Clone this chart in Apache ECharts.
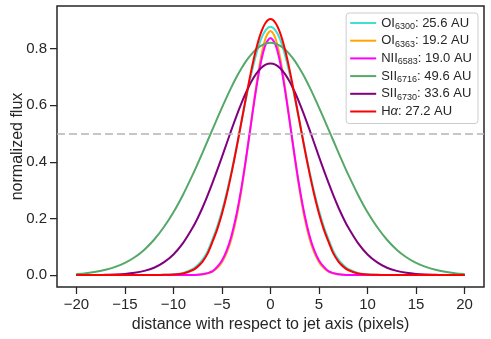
<!DOCTYPE html>
<html>
<head>
<meta charset="utf-8">
<script src="https://cdn.jsdelivr.net/npm/echarts@6/dist/echarts.min.js"></script>
<style>
  html, body { margin: 0; padding: 0; background: #fff; }
  #chart { width: 491px; height: 339px; }
</style>
</head>
<body>
<div id="chart"></div>
<script>
// distance from jet axis (pixels)
const xs = [-20,-19,-18,-17,-16,-15,-14,-13,-12,-11,-10,-9,
  -8,-7.5,-7,-6.5,-6,-5.5,-5,-4.5,-4,-3.5,-3,-2.5,-2,-1.5,-1,-0.5,0,
  0.5,1,1.5,2,2.5,3,3.5,4,4.5,5,5.5,6,6.5,7,7.5,8,
  9,10,11,12,13,14,15,16,17,18,19,20];

// normalized flux profiles
const oi6300 = [0,0,0,0,0,0,0,0,0,0.001,0.003,0.008,
  0.022,0.036,0.055,0.083,0.125,0.171,0.227,0.294,0.370,0.453,0.540,0.626,0.707,0.777,0.832,0.866,0.878,
  0.866,0.832,0.777,0.707,0.626,0.540,0.453,0.370,0.294,0.227,0.171,0.125,0.083,0.055,0.036,0.022,
  0.008,0.003,0.001,0,0,0,0,0,0,0,0,0];
const oi6363 = [0,0,0,0,0,0,0,0,0,0,0,0,
  0,0.001,0.003,0.006,0.012,0.025,0.046,0.080,0.131,0.204,0.299,0.414,0.539,0.662,0.767,0.838,0.863,
  0.838,0.767,0.662,0.539,0.414,0.299,0.204,0.131,0.080,0.046,0.025,0.012,0.006,0.003,0.001,0,
  0,0,0,0,0,0,0,0,0,0,0,0];
const nii6583 = [0,0,0,0,0,0,0,0,0,0,0,0,
  0,0.001,0.003,0.007,0.013,0.029,0.052,0.088,0.142,0.215,0.308,0.418,0.537,0.653,0.750,0.815,0.838,
  0.815,0.750,0.653,0.537,0.418,0.308,0.215,0.142,0.088,0.052,0.029,0.013,0.007,0.003,0.001,0,
  0,0,0,0,0,0,0,0,0,0,0,0];
const sii6716 = [0.004,0.007,0.012,0.019,0.029,0.043,0.063,0.090,0.125,0.169,0.222,0.285,
  0.356,0.394,0.433,0.473,0.513,0.553,0.592,0.630,0.666,0.700,0.730,0.757,0.779,0.797,0.810,0.818,0.821,
  0.818,0.810,0.797,0.779,0.757,0.730,0.700,0.666,0.630,0.592,0.553,0.513,0.473,0.433,0.394,0.356,
  0.285,0.222,0.169,0.125,0.090,0.063,0.043,0.029,0.019,0.012,0.007,0.004];
const sii6730 = [0,0,0,0.001,0.002,0.004,0.008,0.015,0.026,0.045,0.073,0.114,
  0.169,0.202,0.239,0.280,0.324,0.370,0.418,0.467,0.516,0.563,0.607,0.647,0.682,0.710,0.731,0.744,0.748,
  0.744,0.731,0.710,0.682,0.647,0.607,0.563,0.516,0.467,0.418,0.370,0.324,0.280,0.239,0.202,0.169,
  0.114,0.073,0.045,0.026,0.015,0.008,0.004,0.002,0.001,0,0,0];
const halpha = [0,0,0,0,0,0,0,0,0,0.001,0.002,0.006,
  0.018,0.030,0.048,0.075,0.116,0.161,0.217,0.285,0.363,0.449,0.541,0.633,0.720,0.796,0.855,0.892,0.905,
  0.892,0.855,0.796,0.720,0.633,0.541,0.449,0.363,0.285,0.217,0.161,0.116,0.075,0.048,0.030,0.018,
  0.006,0.002,0.001,0,0,0,0,0,0,0,0,0];

const names = ["OI6300", "OI6363", "NII6583", "SII6716", "SII6730", "Halpha"];
const legendLabels = [
  "OI{s|6300}: 25.6 AU",
  "OI{s|6363}: 19.2 AU",
  "NII{s|6583}: 19.0 AU",
  "SII{s|6716}: 49.6 AU",
  "SII{s|6730}: 33.6 AU",
  "H{i|α}: 27.2 AU",
];
const colors = ["#40E0D0", "#FFA500", "#FF00FF", "#55A868", "#800080", "#FF0000"];
const profiles = [oi6300, oi6363, nii6583, sii6716, sii6730, halpha];

const xTicks = [-20, -15, -10, -5, 0, 5, 10, 15, 20];
const yTicks = [0, 0.2, 0.4, 0.6, 0.8];
const halfLevel = 0.5;

const font = "Liberation Sans, Arial, sans-serif";
const ink = "#262626";

const chartDom = echarts.init(document.getElementById("chart"));

const series = profiles.map(function (vals, i) {
  return {
    name: names[i],
    type: "line",
    smooth: 0.3,
    symbol: "none",
    lineStyle: { color: colors[i], width: 2 },
    itemStyle: { color: colors[i] },
    data: xs.map(function (x, j) { return [x, vals[j]]; }),
  };
});
// dashed half-level line
series[0].markLine = {
  silent: true,
  symbol: "none",
  label: { show: false },
  lineStyle: { color: "#b4b4b4", type: [8, 4], width: 1.5 },
  data: [{ yAxis: halfLevel }],
};

const option = {
  animation: false,
  grid: {
    left: 57, right: 7, top: 6, bottom: 52,
    outerBoundsMode: "none",
    containLabel: false,
    show: true, borderColor: ink, borderWidth: 1.5,
  },
  xAxis: {
    type: "value",
    min: -22, max: 22,
    name: "distance with respect to jet axis (pixels)",
    nameLocation: "middle",
    nameGap: 30,
    nameTextStyle: { fontSize: 16, color: ink, fontFamily: font },
    axisLine: { show: false, onZero: false },
    splitLine: { show: false },
    axisTick: { show: true, length: 7, customValues: xTicks, lineStyle: { color: ink, width: 1.25 } },
    axisLabel: {
      customValues: xTicks,
      margin: 10,
      fontSize: 15, color: ink, fontFamily: font,
      formatter: function (v) { return v < 0 ? "\u2212" + (-v) : String(v); },
    },
  },
  yAxis: {
    type: "value",
    min: -0.042, max: 0.951,
    name: "normalized flux",
    nameLocation: "middle",
    nameGap: 31,
    nameMoveOverlap: false,
    nameTextStyle: { fontSize: 16, color: ink, fontFamily: font },
    axisLine: { show: false, onZero: false },
    splitLine: { show: false },
    axisTick: { show: true, length: 7, customValues: yTicks, lineStyle: { color: ink, width: 1.25 } },
    axisLabel: {
      customValues: yTicks,
      margin: 10,
      fontSize: 15, color: ink, fontFamily: font,
      formatter: function (v) { return v.toFixed(1); },
    },
  },
  legend: {
    orient: "vertical",
    right: 13, top: 13,
    padding: [2, 6, 4, 4],
    itemWidth: 26, itemHeight: 2, itemGap: 1.7,
    icon: "rect",
    borderColor: "#cccccc", borderWidth: 1, borderRadius: 3,
    backgroundColor: "rgba(255,255,255,0.8)",
    data: names,
    formatter: function (name) { return legendLabels[names.indexOf(name)]; },
    textStyle: {
      fontSize: 13, color: ink, fontFamily: font, lineHeight: 16,
      rich: {
        s: { fontSize: 9, color: ink, fontFamily: font, verticalAlign: "bottom", lineHeight: 16 },
        i: { fontSize: 13, color: ink, fontFamily: font, fontStyle: "italic", lineHeight: 16 },
      },
    },
  },
  series: series,
};
chartDom.setOption(option);
</script>
</body>
</html>
